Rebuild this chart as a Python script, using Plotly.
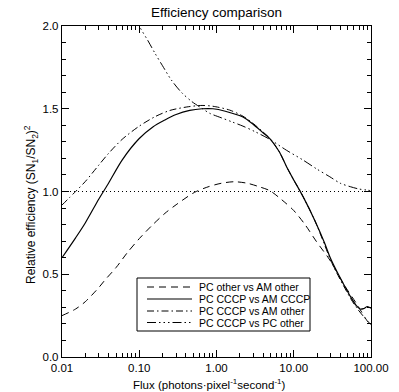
import plotly.graph_objects as go

# --- data ---
x_pc_other_am_other = [0.01, 0.015, 0.02, 0.03, 0.036, 0.05, 0.07, 0.1, 0.15, 0.215, 0.3, 0.52, 0.8, 1.16, 1.7, 2.5, 3.5, 4.9, 7, 10, 14, 19.7, 29.3, 43.6, 64.6, 91, 100]
y_pc_other_am_other = [0.25, 0.29, 0.334, 0.42, 0.465, 0.54, 0.63, 0.715, 0.80, 0.868, 0.92, 0.995, 1.03, 1.05, 1.059, 1.05, 1.03, 1.005, 0.95, 0.885, 0.80, 0.697, 0.586, 0.445, 0.324, 0.213, 0.195]

x_cccp_am_cccp = [0.01, 0.015, 0.02, 0.03, 0.04, 0.06, 0.1, 0.15, 0.215, 0.3, 0.45, 0.65, 0.9, 1.3, 2.2, 3.0, 4.0, 4.9, 6.5, 8.07, 10, 13.2, 18.6, 25, 29.3, 35, 43.6, 55, 64.6, 72, 80, 90, 100]
y_cccp_am_cccp = [0.60, 0.72, 0.81, 0.955, 1.05, 1.19, 1.32, 1.39, 1.432, 1.465, 1.49, 1.50, 1.50, 1.485, 1.45, 1.405, 1.355, 1.32, 1.24, 1.15, 1.07, 0.969, 0.828, 0.69, 0.606, 0.53, 0.445, 0.36, 0.31, 0.29, 0.292, 0.305, 0.295]

x_cccp_am_other = [0.01, 0.015, 0.02, 0.03, 0.04, 0.06, 0.1, 0.16, 0.25, 0.43, 0.65, 0.9, 1.48, 2.2, 3.0, 4.0, 4.9, 6.5, 8.07, 10, 13.2, 18.6, 25, 29.3, 35, 43.6, 55, 64.6, 80, 100]
y_cccp_am_other = [0.918, 1.0, 1.06, 1.16, 1.23, 1.315, 1.395, 1.452, 1.49, 1.512, 1.52, 1.515, 1.492, 1.455, 1.41, 1.36, 1.32, 1.24, 1.15, 1.07, 0.969, 0.828, 0.68, 0.596, 0.52, 0.435, 0.35, 0.30, 0.245, 0.195]

x_cccp_pc_other = [0.01, 0.03, 0.06, 0.1, 0.13, 0.16, 0.2, 0.26, 0.35, 0.48, 0.65, 0.82, 1.16, 1.6, 2.2, 3.2, 4.9, 8, 13.2, 20, 29.3, 40, 54, 70, 87, 100]
y_cccp_pc_other = [3.2, 2.6, 2.22, 2.0, 1.91, 1.835, 1.76, 1.674, 1.60, 1.543, 1.502, 1.472, 1.445, 1.42, 1.395, 1.36, 1.315, 1.25, 1.19, 1.135, 1.089, 1.05, 1.029, 1.015, 1.009, 1.005]

ref_x = [0.01, 100]
ref_y = [1.0, 1.0]

series_names = ["PC other vs AM other", "PC CCCP vs AM CCCP", "PC CCCP vs AM other", "PC CCCP vs PC other"]

x_tickvals = [0.01, 0.1, 1, 10, 100]
x_ticktext = ["0.01", "0.10", "1.00", "10.00", "100.00"]
y_tickvals = [0.0, 0.5, 1.0, 1.5, 2.0]
y_ticktext = ["0.0", "0.5", "1.0", "1.5", "2.0"]

FONT = "Liberation Sans, Arial, sans-serif"
C = "black"
DASHES = ["7px,5px", "solid", "7px,3px,1.5px,3px", "9px,3px,1.5px,3px,1.5px,3px,1.5px,3px"]
WIDTHS = [1, 1.2, 1, 1]

# plot area in pixels (layout only)
L, R, T, B = 62, 371, 26, 357
def px(xp):
    return (xp - L) / (R - L)
def py(yp):
    return (B - yp) / (B - T)

fig = go.Figure()
fig.add_trace(go.Scatter(x=ref_x, y=ref_y, mode="lines", showlegend=False,
                         line=dict(color=C, width=1, dash="1px,3px")))
data = [(x_pc_other_am_other, y_pc_other_am_other),
        (x_cccp_am_cccp, y_cccp_am_cccp),
        (x_cccp_am_other, y_cccp_am_other),
        (x_cccp_pc_other, y_cccp_pc_other)]
for (xs, ys), nm, d, w in zip(data, series_names, DASHES, WIDTHS):
    fig.add_trace(go.Scatter(x=xs, y=ys, mode="lines", name=nm, showlegend=False,
                             line=dict(color=C, width=w, dash=d, shape="spline", smoothing=0.8)))

shapes = [dict(type="rect", xref="paper", yref="paper", x0=px(137), x1=px(310), y0=py(331), y1=py(278),
               line=dict(color=C, width=1), fillcolor="white", layer="above")]
annotations = []
row_y = [287, 299, 311, 322.5]
for ry, nm, d, w in zip(row_y, series_names, DASHES, WIDTHS):
    shapes.append(dict(type="line", xref="paper", yref="paper", x0=px(147), x1=px(192), y0=py(ry), y1=py(ry),
                       line=dict(color=C, width=w, dash=d), layer="above"))
    annotations.append(dict(text=nm, xref="paper", yref="paper", x=px(197), y=py(ry), xanchor="left",
                            yanchor="middle", showarrow=False, font=dict(size=10.5, family=FONT, color=C)))

annotations.append(dict(text="Relative efficiency (SN<sub>1</sub>/SN<sub>2</sub>)<sup>2</sup>",
                        xref="paper", yref="paper", x=px(31), y=py(205), textangle=-90,
                        xanchor="center", yanchor="middle", showarrow=False,
                        font=dict(size=12, family=FONT, color=C)))
annotations.append(dict(text="Flux (photons·pixel<sup>-1</sup>second<sup>-1</sup>)",
                        xref="paper", yref="paper", x=px(209), y=py(384), xanchor="center",
                        yanchor="middle", showarrow=False, font=dict(size=11.5, family=FONT, color=C)))
annotations.append(dict(text="Efficiency comparison", xref="paper", yref="paper", x=px(216), y=py(13),
                        xanchor="center", yanchor="middle", showarrow=False,
                        font=dict(size=13.5, family=FONT, color=C)))

fig.update_layout(
    width=399, height=392,
    margin=dict(l=L, r=399 - R, t=T, b=392 - B),
    paper_bgcolor="white", plot_bgcolor="white",
    font=dict(family=FONT, size=11.5, color=C),
    showlegend=False, hovermode=False,
    shapes=shapes, annotations=annotations,
    xaxis=dict(type="log", range=[-2, 2], tickvals=x_tickvals, ticktext=x_ticktext,
               ticks="inside", ticklen=7, tickwidth=1, tickcolor=C,
               showline=True, linecolor=C, linewidth=1.2, mirror="ticks",
               showgrid=False, zeroline=False, automargin=False,
               minor=dict(ticks="inside", ticklen=4, tickcolor=C, dtick="D1", showgrid=False)),
    yaxis=dict(range=[0, 2], tickvals=y_tickvals, ticktext=y_ticktext,
               ticks="inside", ticklen=7, tickwidth=1, tickcolor=C,
               showline=True, linecolor=C, linewidth=1.2, mirror="ticks",
               showgrid=False, zeroline=False, automargin=False,
               minor=dict(ticks="inside", ticklen=4, tickcolor=C, dtick=0.1, showgrid=False)),
)

fig.write_html("out.html", config={"displayModeBar": False, "staticPlot": True},
               post_script="document.body.style.margin='0';document.body.style.overflow='hidden';")
